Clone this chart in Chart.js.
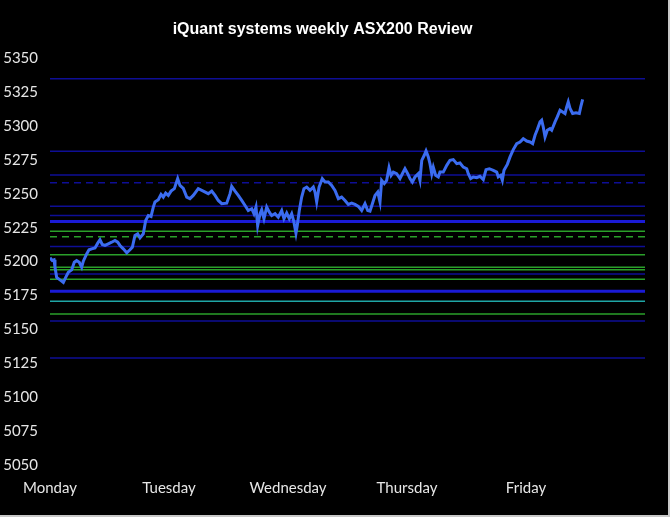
<!DOCTYPE html>
<html>
<head>
<meta charset="utf-8">
<title>iQuant systems weekly ASX200 Review</title>
<script src="https://cdn.jsdelivr.net/npm/chart.js@4"></script>
<style>
  html, body { margin: 0; padding: 0; background: #c8c8c8; }
  #wrap { width: 668px; height: 515px; background: #000; }
</style>
</head>
<body>
<div id="wrap"><canvas id="chart" width="668" height="515"></canvas></div>
<script>
// x axis: trading days (0 = Monday open)
const dayLabels = ['Monday', 'Tuesday', 'Wednesday', 'Thursday', 'Friday'];

// intraday ASX200 readings
const times = [
  0.000, 0.019, 0.034, 0.042, 0.056, 0.084, 0.112, 0.132, 0.154, 0.182,
  0.204, 0.224, 0.246, 0.266, 0.280, 0.308, 0.328, 0.350, 0.378, 0.401,
  0.420, 0.439, 0.462, 0.490, 0.518, 0.546, 0.569, 0.588, 0.616, 0.645,
  0.672, 0.692, 0.714, 0.737, 0.756, 0.784, 0.804, 0.826, 0.849, 0.868,
  0.882, 0.910, 0.933, 0.952, 0.972, 0.994, 1.017, 1.045, 1.073, 1.092,
  1.120, 1.149, 1.176, 1.204, 1.246, 1.288, 1.330, 1.359, 1.387, 1.414,
  1.443, 1.485, 1.513, 1.527, 1.555, 1.582, 1.611, 1.639, 1.666, 1.695,
  1.714, 1.731, 1.745, 1.765, 1.779, 1.798, 1.821, 1.843, 1.863, 1.891,
  1.918, 1.947, 1.966, 1.989, 2.011, 2.031, 2.050, 2.067, 2.078, 2.095,
  2.115, 2.134, 2.157, 2.185, 2.213, 2.227, 2.241, 2.261, 2.288, 2.311,
  2.339, 2.367, 2.395, 2.423, 2.451, 2.479, 2.507, 2.535, 2.563, 2.591,
  2.619, 2.647, 2.670, 2.689, 2.709, 2.731, 2.754, 2.773, 2.787, 2.809,
  2.829, 2.849, 2.866, 2.885, 2.913, 2.941, 2.961, 2.983, 3.006, 3.025,
  3.045, 3.067, 3.095, 3.109, 3.124, 3.145, 3.160, 3.179, 3.193, 3.208,
  3.221, 3.241, 3.263, 3.277, 3.305, 3.334, 3.361, 3.389, 3.418, 3.445,
  3.473, 3.502, 3.515, 3.535, 3.557, 3.586, 3.613, 3.641, 3.664, 3.692,
  3.725, 3.754, 3.767, 3.787, 3.801, 3.815, 3.843, 3.866, 3.893, 3.922,
  3.950, 3.977, 4.006, 4.034, 4.056, 4.076, 4.095, 4.118, 4.132, 4.145,
  4.160, 4.179, 4.202, 4.216, 4.244, 4.263, 4.286, 4.308, 4.328, 4.342,
  4.355, 4.370, 4.392, 4.420, 4.448, 4.460, 4.476
];
const prices = [
  5202.8, 5200.8, 5201.3, 5195.8, 5188.4, 5186.5, 5184.7, 5188.4, 5192.1, 5193.9,
  5199.5, 5200.8, 5199.5, 5195.8, 5200.3, 5205.7, 5208.7, 5209.4, 5210.1, 5213.6,
  5216.1, 5212.6, 5211.9, 5213.1, 5214.3, 5215.6, 5214.3, 5211.9, 5209.4, 5206.5,
  5208.7, 5210.6, 5219.3, 5220.5, 5217.5, 5220.5, 5230.3, 5234.0, 5233.3, 5240.2,
  5243.9, 5245.6, 5249.6, 5247.6, 5250.5, 5248.8, 5252.0, 5253.8, 5261.2, 5256.2,
  5254.0, 5247.6, 5246.4, 5248.8, 5253.8, 5252.0, 5250.1, 5252.0, 5248.8, 5245.1,
  5242.7, 5243.1, 5250.1, 5255.5, 5252.0, 5248.8, 5245.1, 5241.4, 5237.7, 5239.0,
  5235.3, 5240.2, 5226.6, 5235.3, 5238.2, 5231.6, 5240.2, 5236.5, 5234.0, 5235.3,
  5232.8, 5237.7, 5231.6, 5235.8, 5231.6, 5235.3, 5229.1, 5220.9, 5226.6, 5237.7,
  5247.6, 5253.8, 5255.0, 5252.5, 5255.0, 5251.3, 5244.0, 5255.0, 5261.2, 5258.7,
  5258.7, 5256.2, 5252.5, 5246.4, 5247.6, 5245.1, 5242.2, 5243.1, 5242.2, 5240.7,
  5237.7, 5242.7, 5237.7, 5237.2, 5242.7, 5248.8, 5251.3, 5244.0, 5259.9, 5257.5,
  5259.9, 5269.3, 5263.6, 5266.0, 5264.8, 5261.2, 5264.8, 5268.5, 5264.8, 5261.2,
  5258.7, 5262.4, 5264.8, 5259.9, 5274.7, 5278.4, 5281.6, 5277.2, 5272.2, 5264.8,
  5269.7, 5263.6, 5262.4, 5266.0, 5266.0, 5271.0, 5274.7, 5275.2, 5272.2, 5272.7,
  5269.7, 5268.5, 5264.8, 5261.2, 5262.4, 5261.9, 5262.9, 5260.4, 5267.8, 5268.5,
  5267.3, 5266.0, 5262.4, 5263.6, 5259.9, 5267.3, 5271.7, 5277.2, 5282.6, 5287.0,
  5288.2, 5290.7, 5288.9, 5288.2, 5287.0, 5293.2, 5297.4, 5303.0, 5304.2, 5299.3,
  5291.9, 5296.9, 5298.1, 5296.9, 5303.0, 5306.7, 5311.6, 5310.4, 5309.2, 5314.1,
  5317.8, 5312.9, 5309.2, 5309.7, 5309.2, 5314.1, 5319.6
];

// support / resistance levels across the week
const levels = [
  5334.8, 5281.3, 5263.8, 5258.2, 5240.9, 5234.0, 5229.6, 5222.4, 5218.3, 5211.1,
  5205.0, 5195.8, 5193.9, 5190.9, 5187.0, 5178.1, 5170.7, 5161.4, 5156.2, 5128.9
];
const levelKinds = [
  'blue', 'blue', 'blue', 'blueDash', 'blue', 'blue', 'blueBold', 'green', 'greenDash', 'blue',
  'green', 'green', 'green', 'blue', 'green', 'blueBold', 'cyan', 'green', 'blue', 'blue'
];

const yTicks = [5050, 5075, 5100, 5125, 5150, 5175, 5200, 5225, 5250, 5275, 5300, 5325, 5350];

const kindStyle = {
  blue:      { color: '#0e0e96', width: 1.5, dash: [] },
  blueDash:  { color: '#0e0e96', width: 1.5, dash: [7, 5] },
  blueBold:  { color: '#1a1ad6', width: 3,   dash: [] },
  green:     { color: '#2aa02a', width: 1.5, dash: [] },
  greenDash: { color: '#2aa02a', width: 1.5, dash: [7, 5] },
  cyan:      { color: '#1fa6a6', width: 1.5, dash: [] }
};

const weekEnd = 5;

const datasets = [{
  label: 'ASX200',
  data: times.map((t, i) => ({ x: t, y: prices[i] })),
  borderColor: '#3b6cf0',
  borderWidth: 3,
  pointRadius: 0,
  tension: 0
}];

levels.forEach((v, i) => {
  const s = kindStyle[levelKinds[i]];
  datasets.push({
    label: 'level ' + v,
    data: [{ x: 0, y: v }, { x: weekEnd, y: v }],
    borderColor: s.color,
    borderWidth: s.width,
    borderDash: s.dash,
    pointRadius: 0
  });
});

const tickFont = { family: "'Lato', 'Liberation Sans', sans-serif", size: 15 };

new Chart(document.getElementById('chart'), {
  type: 'line',
  data: { datasets: datasets },
  options: {
    responsive: false,
    animation: false,
    layout: { padding: { left: 0, right: 23, bottom: 4 } },
    plugins: {
      legend: { display: false },
      tooltip: { enabled: false },
      title: {
        display: true,
        text: 'iQuant systems weekly ASX200 Review',
        color: '#ffffff',
        font: { family: "'Liberation Sans', Arial, sans-serif", size: 16, weight: 'bold' },
        padding: { top: 20, bottom: 19 }
      }
    },
    scales: {
      x: {
        type: 'linear',
        min: 0,
        max: weekEnd,
        grid: { display: false, drawTicks: false },
        border: { display: false },
        afterBuildTicks: (scale) => {
          scale.ticks = dayLabels.map((d, i) => ({ value: i }));
        },
        ticks: {
          color: '#e6e6e6',
          font: tickFont,
          padding: 14,
          maxRotation: 0,
          autoSkip: false,
          callback: (v) => dayLabels[v] || ''
        }
      },
      y: {
        min: 5050,
        max: 5350,
        grid: { display: false, drawTicks: false },
        border: { display: false },
        afterBuildTicks: (scale) => {
          scale.ticks = yTicks.map(v => ({ value: v }));
        },
        afterFit: (scale) => { scale.width = 50; },
        ticks: {
          color: '#e6e6e6',
          font: tickFont,
          padding: 12,
          callback: (v) => String(v)
        }
      }
    }
  }
});
</script>
</body>
</html>
